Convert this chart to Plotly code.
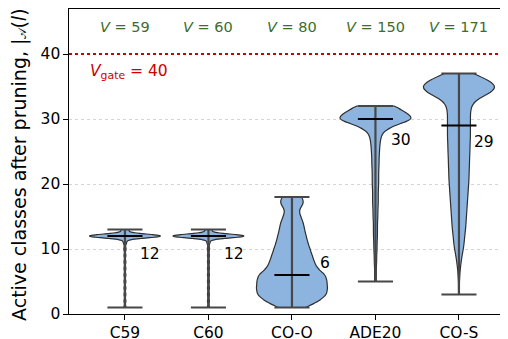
import numpy as np
import plotly.graph_objects as go

# ---------------- data ----------------
categories = ["C59", "C60", "CO-O", "ADE20", "CO-S"]
vocab_sizes = [59, 60, 80, 150, 171]
gate_value = 40

# distribution of active classes after pruning (value -> number of images)
c59_values = list(range(1, 14))
c59_counts = [30, 25, 25, 25, 25, 25, 25, 25, 25, 30, 45, 1000, 110]

c60_values = list(range(1, 14))
c60_counts = [30, 27, 27, 27, 27, 27, 27, 27, 27, 32, 42, 1000, 100]

coo_values = list(range(1, 19))
coo_counts = [25, 50, 64, 65, 64, 62, 46, 41, 37, 33, 29, 26, 23, 21, 16, 12, 22, 20]

ade_values = list(range(5, 33))
ade_counts = [2, 2, 2, 3, 3, 4, 4, 5, 5, 5, 6, 6, 7, 7, 7, 8, 8, 8, 9, 9,
              10, 11, 13, 18, 45, 100, 75, 50]

cos_values = list(range(3, 38))
cos_counts = [1, 1, 1, 2, 3, 5, 7, 10, 12, 13, 15, 16, 17, 18, 19, 20, 21, 22,
              23, 23, 24, 24, 25, 25, 26, 26, 26, 26, 26, 28, 38, 72, 90, 66, 33]

distributions = [
    (c59_values, c59_counts),
    (c60_values, c60_counts),
    (coo_values, coo_counts),
    (ade_values, ade_counts),
    (cos_values, cos_counts),
]

# ---------------- style ----------------
bandwidths = [0.3, 0.3, 0.6, 0.6, 0.7]
fill_color = "#8cb4df"
edge_color = "#2e2e2e"
bar_color = "#474747"
green = "#3b6e2b"
red = "#cc0000"
font_family = "DejaVu Sans"
half_cap = 0.21
label_dx = [0.30, 0.30, 0.40, 0.30, 0.30]
label_y = [9.3, 9.3, 7.9, 26.8, 26.4]

fig = go.Figure()

samples = []
for i, (vals, cnts) in enumerate(distributions):
    s = np.repeat(np.array(vals, dtype=float), np.array(cnts))
    samples.append(s)
    fig.add_trace(go.Violin(
        x=np.full(len(s), i), y=s,
        bandwidth=bandwidths[i], spanmode="hard", scalemode="width",
        width=0.85, side="both", points=False,
        fillcolor=fill_color, opacity=1,
        line=dict(color=edge_color, width=1.2),
        box=dict(visible=False), meanline=dict(visible=False),
        showlegend=False, hoverinfo="skip",
    ))

# vertical bars and min/max caps
bx, by, mx, my = [], [], [], []
medians = []
for i, s in enumerate(samples):
    lo, hi, med = float(s.min()), float(s.max()), float(np.median(s))
    medians.append(med)
    bx += [i, i, None, i - half_cap, i + half_cap, None, i - half_cap, i + half_cap, None]
    by += [lo, hi, None, lo, lo, None, hi, hi, None]
    mx += [i - half_cap, i + half_cap, None]
    my += [med, med, None]

fig.add_trace(go.Scatter(x=bx, y=by, mode="lines", line=dict(color=bar_color, width=2.2),
                         showlegend=False, hoverinfo="skip"))
fig.add_trace(go.Scatter(x=mx, y=my, mode="lines", line=dict(color="black", width=2.2),
                         showlegend=False, hoverinfo="skip"))

# gate line
fig.add_shape(type="line", xref="paper", x0=0, x1=1, yref="y", y0=gate_value, y1=gate_value,
              line=dict(color=red, width=2, dash="dot"))

annotations = []
annotations.append(dict(x=-0.44, y=37.2, xref="x", yref="y", xanchor="left", yanchor="middle",
                        text=f"<i>V</i><sub>gate</sub> = {gate_value}", showarrow=False,
                        font=dict(color=red, size=15.5, family=font_family)))
for i, v in enumerate(vocab_sizes):
    annotations.append(dict(x=i, y=44.15, xref="x", yref="y", xanchor="center", yanchor="middle",
                            text=f"<i>V</i> = {v}", showarrow=False,
                            font=dict(color=green, size=14.5, family=font_family)))
for i, m in enumerate(medians):
    annotations.append(dict(x=i + label_dx[i], y=label_y[i], xref="x", yref="y",
                            xanchor="center", yanchor="middle", text=f"{int(m)}", showarrow=False,
                            font=dict(color="black", size=15.5, family=font_family)))

y_title = ('Active classes after pruning, |<span style="font-size:11px">𝒜</span>(<i>l</i>)|')

# page body has an 8px margin: the figure is sized/offset to compensate
fig.update_layout(
    width=500, height=331,
    margin=dict(l=61, r=0, t=1, b=25, autoexpand=False),
    plot_bgcolor="white", paper_bgcolor="white",
    violinmode="overlay",
    font=dict(family=font_family, size=15.5, color="black"),
    annotations=annotations,
    xaxis=dict(range=[-0.67, -0.67 + 439 / 83.5], tickmode="array", tickvals=list(range(len(categories))),
               ticktext=categories, ticks="outside", ticklen=4.5, tickwidth=1.3, tickcolor="black",
               showline=True, linecolor="black", linewidth=1.3, mirror=True,
               showgrid=False, zeroline=False),
    yaxis=dict(range=[0, 305 / 6.5], tickmode="array", tickvals=[0, 10, 20, 30, 40],
               ticks="outside", ticklen=4.5, tickwidth=1.3, tickcolor="black",
               showline=True, linecolor="black", linewidth=1.3, mirror=False,
               showgrid=True, gridcolor="#d4d4d4", griddash="dot", gridwidth=1, zeroline=False,
               title=dict(text=y_title, standoff=8)),
)

fig.write_html("out.html")
